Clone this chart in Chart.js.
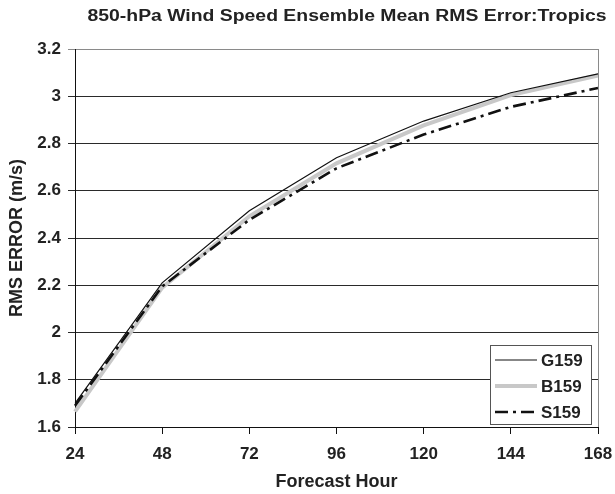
<!DOCTYPE html>
<html>
<head>
<meta charset="utf-8">
<script src="https://cdn.jsdelivr.net/npm/chart.js@4.4.0/dist/chart.umd.min.js"></script>
<style>
  html, body { margin: 0; padding: 0; background: #fff; }
  canvas { display: block; }
</style>
</head>
<body>
<canvas id="rms" width="615" height="494"></canvas>
<script>
// data
const hours = ["24", "48", "72", "96", "120", "144", "168"];
const g159 = [1.70, 2.21, 2.515, 2.74, 2.895, 3.015, 3.095];
const b159 = [1.665, 2.19, 2.492, 2.716, 2.877, 3.005, 3.088];
const s159 = [1.69, 2.195, 2.477, 2.695, 2.838, 2.955, 3.035];
const yTicks = [1.6, 1.8, 2.0, 2.2, 2.4, 2.6, 2.8, 3.0, 3.2];

const titleText = "850-hPa Wind Speed Ensemble Mean RMS Error:Tropics";
const FONT = "'Liberation Sans', Arial, sans-serif";

// title + right border + boxed legend inside the plot area
const decor = {
    id: "decor",
    afterDraw(chart) {
        const ctx = chart.ctx;
        const area = chart.chartArea;
        ctx.save();

        // right border of plot area (gray like excel)
        ctx.strokeStyle = "#8a8a8a";
        ctx.lineWidth = 1;
        ctx.beginPath();
        ctx.moveTo(area.right + 0.5, area.top);
        ctx.lineTo(area.right + 0.5, area.bottom);
        ctx.stroke();

        // title - the original type is a bit wide, so stretch it sideways
        ctx.fillStyle = "#222";
        ctx.font = "bold 16px " + FONT;
        ctx.textAlign = "center";
        ctx.textBaseline = "middle";
        const tw = ctx.measureText(titleText).width;
        const sx = 519 / tw;
        ctx.save();
        ctx.translate(347, 17);
        ctx.scale(sx, 1);
        ctx.fillText(titleText, 0, 0);
        ctx.restore();

        // legend box
        const w = 101, h = 79;
        const x0 = area.right - 7 - w;
        const y0 = area.bottom - 3 - h;
        ctx.fillStyle = "#fff";
        ctx.fillRect(x0, y0, w, h);
        ctx.strokeStyle = "#555";
        ctx.lineWidth = 1;
        ctx.strokeRect(x0 + 0.5, y0 + 0.5, w, h);

        const items = [0, 1, 2];
        items.forEach((idx, row) => {
            const ds = chart.data.datasets[idx];
            const cy = y0 + 15 + row * 26;
            ctx.strokeStyle = ds.borderColor;
            ctx.lineWidth = ds.borderWidth;
            ctx.setLineDash(ds.borderDash || []);
            ctx.beginPath();
            ctx.moveTo(x0 + 5, cy);
            ctx.lineTo(x0 + 47, cy);
            ctx.stroke();
            ctx.setLineDash([]);
            ctx.fillStyle = "#222";
            ctx.font = "bold 17px " + FONT;
            ctx.textAlign = "left";
            ctx.textBaseline = "middle";
            ctx.fillText(ds.label, x0 + 51, cy + 1);
        });
        ctx.restore();
    }
};

new Chart(document.getElementById("rms").getContext("2d"), {
    type: "line",
    data: {
        labels: hours,
        datasets: [
            {
                label: "G159",
                data: g159,
                borderColor: "#111",
                borderWidth: 1.2,
                pointRadius: 0,
                tension: 0,
                order: 1
            },
            {
                label: "B159",
                data: b159,
                borderColor: "#c8c8c8",
                borderWidth: 4,
                pointRadius: 0,
                tension: 0,
                order: 3
            },
            {
                label: "S159",
                data: s159,
                borderColor: "#111",
                borderWidth: 2.6,
                borderDash: [13, 5, 3, 5],
                pointRadius: 0,
                tension: 0,
                order: 2
            }
        ]
    },
    options: {
        responsive: false,
        animation: false,
        events: [],
        layout: {
            padding: { top: 49, right: 17, left: 0, bottom: 0 }
        },
        plugins: {
            legend: { display: false },
            title: { display: false },
            tooltip: { enabled: false }
        },
        scales: {
            x: {
                type: "category",
                offset: false,
                grid: {
                    drawOnChartArea: false,
                    drawTicks: true,
                    tickLength: 7,
                    color: "#111"
                },
                border: { color: "#111", width: 1 },
                ticks: {
                    color: "#222",
                    padding: 10,
                    maxRotation: 0,
                    autoSkip: false,
                    font: { family: FONT, size: 17, weight: "bold" }
                },
                title: {
                    display: true,
                    text: "Forecast Hour",
                    color: "#222",
                    padding: { top: 0, bottom: 1 },
                    font: { family: FONT, size: 18, weight: "bold" }
                },
                afterFit(scale) {
                    scale.height = 67; // fixed axis band
                    // labels at the ends may hang over, keep the plot edges fixed
                    scale.paddingLeft = 0;
                    scale.paddingRight = 0;
                }
            },
            y: {
                min: 1.6,
                max: 3.2,
                afterBuildTicks(scale) {
                    scale.ticks = yTicks.map(v => ({ value: v }));
                },
                grid: {
                    drawTicks: true,
                    tickLength: 7,
                    color: (c) => (c.tick && c.tick.value >= 3.2 ? "#8a8a8a" : "#2a2a2a"),
                    lineWidth: 1
                },
                border: { color: "#111", width: 1 },
                ticks: {
                    color: "#222",
                    padding: 7,
                    font: { family: FONT, size: 17, weight: "bold" },
                    callback: (v) => String(Math.round(v * 10) / 10)
                },
                title: {
                    display: true,
                    text: "RMS ERROR (m/s)",
                    color: "#222",
                    padding: { top: 6, bottom: 0 },
                    font: { family: FONT, size: 18, weight: "bold" }
                },
                afterFit(scale) {
                    scale.width = 75;
                    scale.paddingTop = 0;
                    scale.paddingBottom = 0;
                }
            }
        }
    },
    plugins: [decor]
});
</script>
</body>
</html>
